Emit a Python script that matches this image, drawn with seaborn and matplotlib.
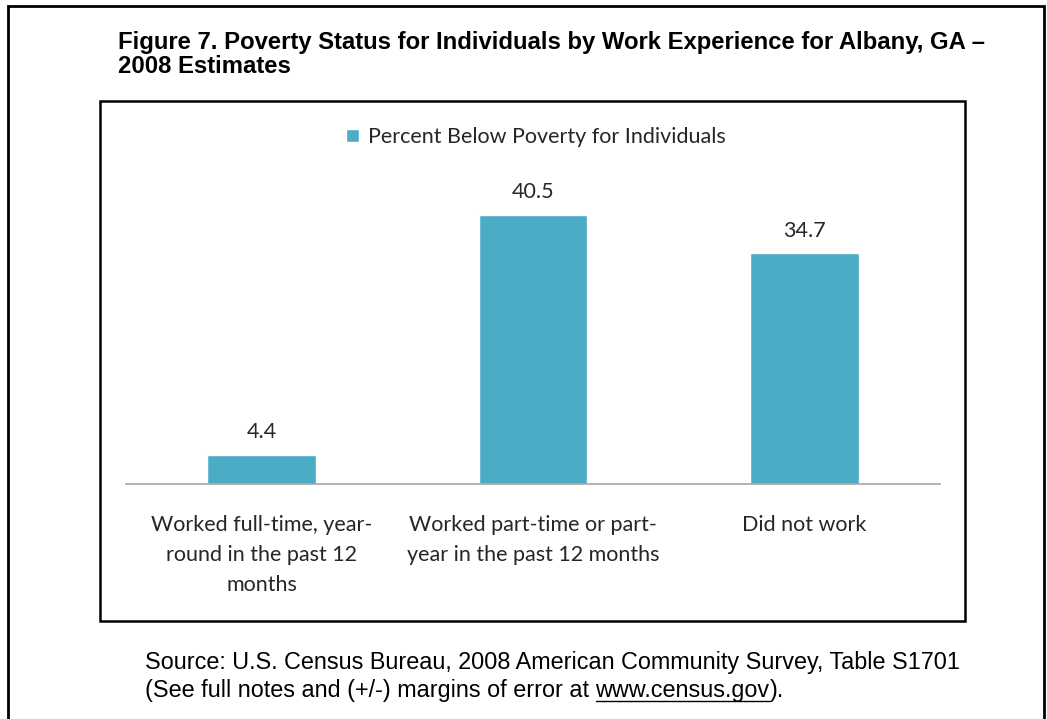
import matplotlib
matplotlib.use("Agg")
import matplotlib.pyplot as plt
import matplotlib.patches as mpatches
import seaborn as sns
import pandas as pd

categories = ["Worked full-time, year-\nround in the past 12\nmonths",
              "Worked part-time or part-\nyear in the past 12 months",
              "Did not work"]
values = [4.4, 40.5, 34.7]
series_name = "Percent Below Poverty for Individuals"
title_line1 = "Figure 7. Poverty Status for Individuals by Work Experience for Albany, GA \u2013"
title_line2 = "2008 Estimates"
source_line1 = "Source: U.S. Census Bureau, 2008 American Community Survey, Table S1701"
source_line2_a = "(See full notes and (+/-) margins of error at "
source_link = "www.census.gov"
source_line2_b = ")."

sns.set_theme(style="white")
plt.rcParams['font.family'] = ['Lato', 'DejaVu Sans']

W, H = 1047, 719
fig = plt.figure(figsize=(W / 100, H / 100), dpi=100)
fig.patch.set_facecolor("white")

def fx(px):
    return px / W

def fy(py):
    return 1 - py / H

# outer border
fig.add_artist(mpatches.Rectangle((fx(8), fy(740)), fx(1044) - fx(8), fy(6) - fy(740),
                                  transform=fig.transFigure, fill=False,
                                  edgecolor="black", linewidth=2.0))
# inner chart box
fig.add_artist(mpatches.Rectangle((fx(100), fy(621)), fx(965) - fx(100), fy(101) - fy(621),
                                  transform=fig.transFigure, fill=False,
                                  edgecolor="black", linewidth=1.8))

df = pd.DataFrame({"category": categories, "value": values})

ax_left, ax_right = 126, 940
ax_bottom, ax_top = 484, 185
ax = fig.add_axes([fx(ax_left), fy(ax_bottom), fx(ax_right) - fx(ax_left), fy(ax_top) - fy(ax_bottom)])
ax.set_facecolor("none")
sns.barplot(data=df, x="category", y="value", color="#4BACC6", saturation=1,
            width=0.4, ax=ax, label=series_name)
ax.set_ylim(0, 45)
ax.set_xlim(-0.5, 2.5)
for s in ["top", "left", "right"]:
    ax.spines[s].set_visible(False)
ax.spines["bottom"].set_color("#A6A6A6")
ax.spines["bottom"].set_linewidth(1.2)
ax.set_yticks([])
ax.set_xlabel("")
ax.set_ylabel("")
ax.tick_params(axis="x", length=0, pad=22, labelsize=15.5, labelcolor="#262626")
for lbl in ax.get_xticklabels():
    lbl.set_linespacing(1.65)
    lbl.set_verticalalignment("top")

for c in ax.containers:
    ax.bar_label(c, labels=[f"{v:.1f}" for v in values], padding=9,
                 fontsize=15.5, color="#262626")

leg = ax.legend(loc="center", bbox_to_anchor=(fx(536), fy(137)),
                bbox_transform=fig.transFigure, frameon=False,
                fontsize=15.5, handlelength=0.6, handleheight=0.6,
                handletextpad=0.45, labelcolor="#262626")

title_family = ["Liberation Sans", "DejaVu Sans"]
fig.text(fx(118), fy(48.5), title_line1, ha="left", va="baseline", fontsize=17.2,
         fontweight="bold", family=title_family, color="black")
fig.text(fx(118), fy(73), title_line2, ha="left", va="baseline", fontsize=17.2,
         fontweight="bold", family=title_family, color="black")

src_family = ["Liberation Sans", "DejaVu Sans"]
src_size = 16.8
fig.text(fx(145), fy(663), source_line1, ha="left", va="center", fontsize=src_size,
         family=src_family, color="black")
t_a = fig.text(fx(145), fy(691), source_line2_a, ha="left", va="center", fontsize=src_size,
               family=src_family, color="black")
fig.canvas.draw()
r = fig.canvas.get_renderer()
bb = t_a.get_window_extent(r)
t_l = fig.text(bb.x1 / W, fy(691), source_link, ha="left", va="center", fontsize=src_size,
               family=src_family, color="black")
bb2 = t_l.get_window_extent(r)
fig.text(bb2.x1 / W, fy(691), source_line2_b, ha="left", va="center", fontsize=src_size,
         family=src_family, color="black")
fig.add_artist(plt.Line2D([bb2.x0 / W, bb2.x1 / W], [(bb2.y0 + 2) / H, (bb2.y0 + 2) / H],
                          transform=fig.transFigure, color="black", linewidth=1.0))

fig.savefig("out.png", dpi=100, facecolor="white")
